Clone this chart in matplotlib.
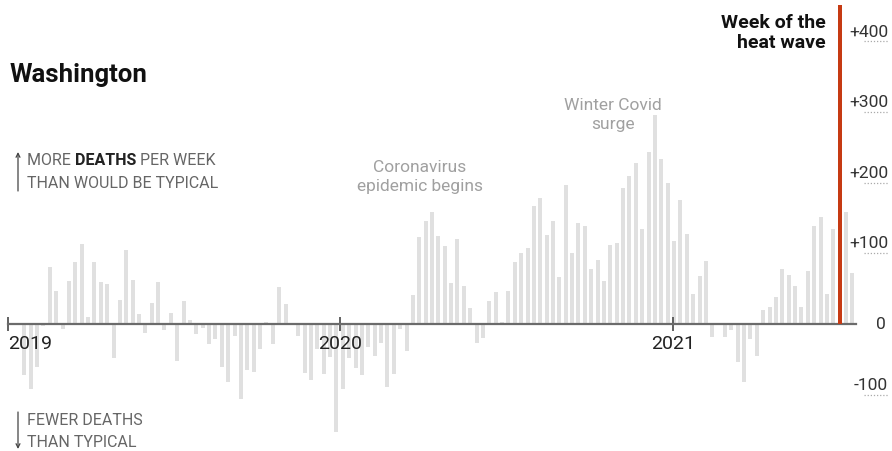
import numpy as np
import pandas as pd
import matplotlib
matplotlib.use("Agg")
import matplotlib.pyplot as plt
import matplotlib.transforms as mtransforms

plt.rcParams['font.family'] = ['Roboto', 'DejaVu Sans']

# weekly excess deaths in Washington, weeks ending on Saturday
excess = [
    -73, -92, -61, -3, 80, 47, -7, 61, 87, 113, 10, 87, 60, 57, -48, 34,
    104, 62, 14, -13, 30, 60, -8, 16, -52, 32, 6, -14, -6, -29, -21, -61,
    -82, -17, -106, -66, -68, -35, 2, -28, 52, 28, 1, -17, -70, -80, -36, -71,
    -47,
    # 2020
    -153, -92, -48, -62, -73, -33, -45, -27, -90, -71, -7, -38, 41, 123,
    146, 159, 124, 110, 58, 120, 54, 23, -27, -20, 32, 45, 2, 46, 88, 100,
    107, 167, 178, 126, 145, 66, 196, 101, 143, 138, 78, 91, 61, 112, 115,
    192, 210, 228, 135, 244, 296, 233,
    # 2021
    199, 118, 176, 127, 42, 68, 89, -19, -2, -19, -9, -54, -82, -21, -45,
    20, 24, 38, 78, 69, 53, 24, 75, 139, 152, 42, 134, 452, 159, 72,
]
first_week = '2019-01-19'
heat_wave_week = '2021-07-03'
year_ticks = ['2019-01-01', '2020-01-01', '2021-01-01']
year_labels = ['2019', '2020', '2021']
y_ticks = [400, 300, 200, 100, 0, -100]
y_tick_labels = ['+400', '+300', '+200', '+100', '0', '-100']

weeks = pd.date_range(first_week, periods=len(excess), freq='7D')
excess = np.array(excess)
is_heat = weeks == pd.Timestamp(heat_wave_week)

W, H = 892, 452
fig = plt.figure(figsize=(W / 100, H / 100), dpi=100)
ax = fig.add_axes([8 / W, 0, 848 / W, 1])

ax.bar(weeks[~is_heat], excess[~is_heat], width=4.4, color='#e0e0e0', zorder=1)
ax.bar(weeks[is_heat], excess[is_heat], width=4.6, color='#c63a13', zorder=3)

ax.set_xlim(pd.Timestamp('2019-01-01'), weeks[-1] + pd.Timedelta(days=4))
ax.set_ylim(-180, 460)

for s in ['top', 'right', 'left']:
    ax.spines[s].set_visible(False)
ax.spines['bottom'].set_position(('data', 0))
ax.spines['bottom'].set_color('#6b6b6b')
ax.spines['bottom'].set_linewidth(1.6)
ax.spines['bottom'].set_zorder(2)
ax.set_yticks([])
ax.set_xticks(pd.to_datetime(year_ticks))
ax.set_xticklabels(year_labels)
ax.tick_params(axis='x', direction='inout', length=10, width=1.3, color='#555555',
               pad=2, labelsize=14, labelcolor='#222222')
ax.get_xticklabels()[0].set_ha('left')

# right-hand value labels with short dotted guides
tr = mtransforms.blended_transform_factory(fig.transFigure, ax.transData)
for v, lab in zip(y_ticks, y_tick_labels):
    if v == 0:
        ax.text(886 / W, v, lab, transform=tr, ha='right', va='center',
                fontsize=12.5, color='#333333')
    else:
        ax.text(888 / W, v + 4, lab, transform=tr, ha='right', va='bottom',
                fontsize=12.5, color='#333333')
        ax.plot([864 / W, 888 / W], [v, v], transform=tr, color='#aaaaaa',
                linestyle=(0, (1, 1.5)), linewidth=0.9, clip_on=False)

# titles and notes
def fy(py):
    return 1 - py / H

fig.text(10 / W, fy(75), 'Washington', fontsize=18.5, fontweight='bold',
         color='#111111', va='center')

gray = '#666666'
t1 = fig.text(27 / W, fy(161), 'MORE ', fontsize=11.5, color=gray, va='center')
t2 = ax.annotate('DEATHS', xy=(1, 0), xycoords=t1, va='bottom', fontsize=11.5,
                 fontweight='bold', color='#222222')
ax.annotate(' PER WEEK', xy=(1, 0), xycoords=t2, va='bottom', fontsize=11.5,
            color=gray)
fig.text(27 / W, fy(184), 'THAN WOULD BE TYPICAL', fontsize=11.5, color=gray,
         va='center')
fig.text(27 / W, fy(421), 'FEWER DEATHS', fontsize=11.5, color=gray, va='center')
fig.text(27 / W, fy(443), 'THAN TYPICAL', fontsize=11.5, color=gray, va='center')

arrow = dict(arrowstyle='->', color='#444444', lw=0.9, shrinkA=0, shrinkB=0,
             mutation_scale=7)
ax.annotate('', xy=(18 / W, fy(153)), xytext=(18 / W, fy(192)),
            xycoords='figure fraction', textcoords='figure fraction',
            arrowprops=arrow)
ax.annotate('', xy=(18 / W, fy(450)), xytext=(18 / W, fy(413)),
            xycoords='figure fraction', textcoords='figure fraction',
            arrowprops=arrow)

note = '#a0a0a0'
fig.text(420 / W, fy(177), 'Coronavirus\nepidemic begins', fontsize=12.5,
         color=note, ha='center', va='center', linespacing=1.3)
fig.text(613 / W, fy(115), 'Winter Covid\nsurge', fontsize=12.5,
         color=note, ha='center', va='center', linespacing=1.3)
fig.text(826 / W, fy(33), 'Week of the\nheat wave', fontsize=14,
         fontweight='bold', color='#111111', ha='right', va='center',
         linespacing=1.15)

fig.savefig('out.png', dpi=100)
